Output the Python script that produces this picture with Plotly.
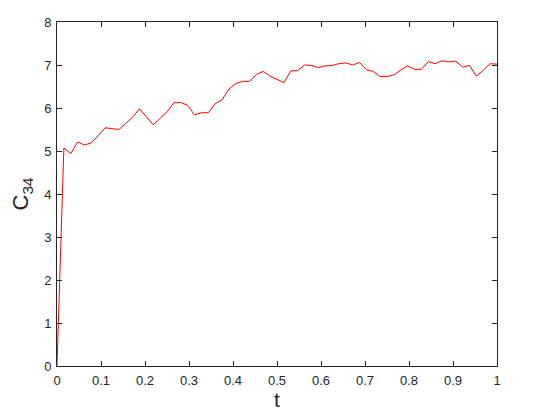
import plotly.graph_objects as go

# time grid (65 samples) and concentration values
t = [0.0000, 0.0156, 0.0313, 0.0469, 0.0625, 0.0781, 0.0938, 0.1094, 0.1250,
     0.1406, 0.1563, 0.1719, 0.1875, 0.2031, 0.2188, 0.2344, 0.2500, 0.2656,
     0.2813, 0.2969, 0.3125, 0.3281, 0.3438, 0.3594, 0.3750, 0.3906, 0.4063,
     0.4219, 0.4375, 0.4531, 0.4688, 0.4844, 0.5000, 0.5156, 0.5313, 0.5469,
     0.5625, 0.5781, 0.5938, 0.6094, 0.6250, 0.6406, 0.6563, 0.6719, 0.6875,
     0.7031, 0.7188, 0.7344, 0.7500, 0.7656, 0.7813, 0.7969, 0.8125, 0.8281,
     0.8438, 0.8594, 0.8750, 0.8906, 0.9063, 0.9219, 0.9375, 0.9531, 0.9688,
     0.9844, 1.0000]
c34 = [0.00, 5.07, 4.94, 5.21, 5.14, 5.19, 5.36, 5.54, 5.52,
       5.50, 5.64, 5.79, 5.98, 5.80, 5.61, 5.76, 5.91, 6.12,
       6.13, 6.06, 5.84, 5.89, 5.89, 6.10, 6.19, 6.44, 6.57,
       6.62, 6.62, 6.78, 6.85, 6.74, 6.66, 6.59, 6.86, 6.87,
       7.00, 6.99, 6.94, 6.98, 6.99, 7.03, 7.05, 7.00, 7.06,
       6.89, 6.85, 6.73, 6.73, 6.77, 6.88, 6.98, 6.90, 6.90,
       7.08, 7.03, 7.10, 7.07, 7.09, 6.95, 6.99, 6.74, 6.88,
       7.03, 7.02]

x_ticks = [0, 0.1, 0.2, 0.3, 0.4, 0.5, 0.6, 0.7, 0.8, 0.9, 1]
x_labels = ["0", "0.1", "0.2", "0.3", "0.4", "0.5", "0.6", "0.7", "0.8", "0.9", "1"]
y_ticks = [0, 1, 2, 3, 4, 5, 6, 7, 8]

fig = go.Figure()

fig.add_trace(go.Scatter(
    x=t, y=c34,
    mode='lines', line=dict(color='#ff0000', width=1),
    showlegend=False
))

axis_style = dict(
    showline=True, linecolor='#262626', linewidth=1, mirror='ticks',
    ticks='inside', ticklen=5, tickcolor='#262626',
    showgrid=False, zeroline=False, automargin=False,
    tickfont=dict(family='Liberation Sans, Arial', size=13, color='#262626'),
)

fig.update_xaxes(
    range=[0, 1], tickvals=x_ticks, ticktext=x_labels, ticklabelstandoff=2,
    title=dict(text='t', font=dict(family='Liberation Sans, Arial', size=21, color='#262626'),
               standoff=4),
    **axis_style
)
fig.update_yaxes(
    range=[0, 8], tickvals=y_ticks, ticklabelstandoff=2,
    title=dict(text='C<sub>34</sub>', font=dict(family='Liberation Sans, Arial', size=22, color='#262626'),
               standoff=13),
    **axis_style
)

# the page body adds an 8px offset, so the figure is sized to fit inside the window
fig.update_layout(
    width=527, height=407,
    margin=dict(l=49, r=38, t=14, b=49),
    paper_bgcolor='white', plot_bgcolor='white',
)

fig.write_html("out.html")
